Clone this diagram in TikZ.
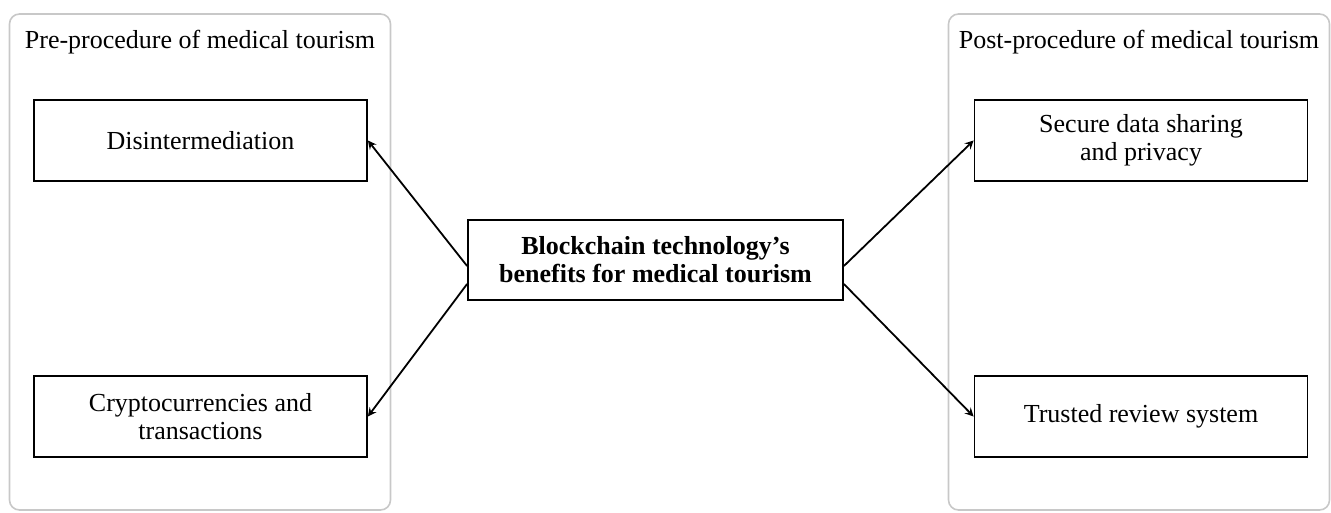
\documentclass[tikz,border=0pt]{standalone}
\usepackage{fontspec}
\setmainfont{Liberation Serif}
\usepackage{tikz}
\usetikzlibrary{positioning}
\usepackage{xcolor}
\definecolor{panelgray}{RGB}{200,200,200}

\begin{document}
\begin{tikzpicture}[x=0.5pt, y=-0.5pt, >=stealth, line width=0.9pt,
    font=\fontsize{13}{14}\selectfont,
    panel/.style={draw=panelgray, line width=0.8pt, rounded corners=5pt, minimum width=190.5pt, minimum height=248pt},
    benefit/.style={draw, rectangle, align=center, minimum width=166.5pt, minimum height=40.5pt, inner sep=0pt},
    core/.style={draw, rectangle, align=center, minimum width=187.5pt, minimum height=40pt, font=\fontsize{13}{14}\selectfont\bfseries}]
    \useasboundingbox (0,0) rectangle (1331,513);

    % Marcos de las dos fases
    \node [panel] (pre) at (200,262) {};
    \node [panel] (post) at (1139,262) {};
    \node (pretitle) at (200,42) {Pre-procedure of medical tourism};
    \node (posttitle) at (1139,42) {Post-procedure of medical tourism};

    % Bloques
    \node [benefit] (disint) at (200.5,140.5) {Disintermediation};
    \node [benefit] (crypto) at (200.5,416.5) {Cryptocurrencies and\\transactions};
    \node [benefit] (secure) at (1141,140.5) {Secure data sharing\\and privacy};
    \node [benefit] (review) at (1141,416.5) {Trusted review system};
    \node [core] (chain) at (655.5,260) {Blockchain technology’s\\benefits for medical tourism};

    % Flechas
    \draw[->] ([yshift=-3pt]chain.west) -- (disint.east);
    \draw[->] ([yshift=-12pt]chain.west) -- (crypto.east);
    \draw[->] ([yshift=-3pt]chain.east) -- (secure.west);
    \draw[->] ([yshift=-12pt]chain.east) -- (review.west);
\end{tikzpicture}
\end{document}
